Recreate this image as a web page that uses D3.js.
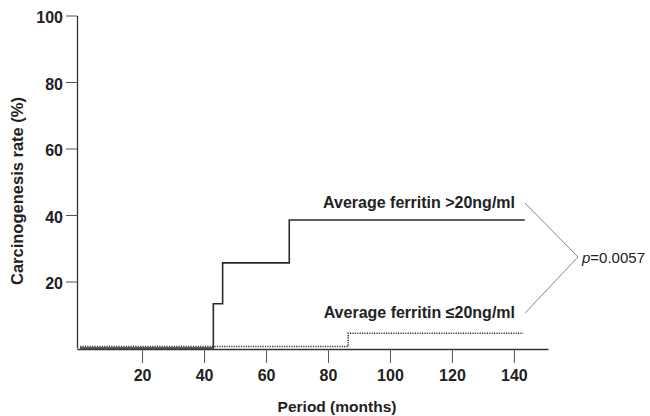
<!DOCTYPE html>
<html>
<head>
<meta charset="utf-8">
<script src="https://cdn.jsdelivr.net/npm/d3@7"></script>
<style>
  body { margin: 0; background: #fff; }
  text { font-family: "Liberation Sans", Arial, sans-serif; }
</style>
</head>
<body>
<div class="chart"></div>
<script>
const w = 650;
const h = 416;

// Kaplan-Meier style step data (months, %)
const highMonths = [0, 43, 46, 67.5, 143.5];
const highRate = [0, 13.3, 25.6, 38.5, 38.5];
const lowMonths = [0, 86.5, 143];
const lowRate = [0, 4, 4];

const xTicks = [20, 40, 60, 80, 100, 120, 140];
const yTicks = [20, 40, 60, 80, 100];

const highLabel = "Average ferritin >20ng/ml";
const lowLabel = "Average ferritin \u226420ng/ml";
const pValue = "=0.0057";

const svg = d3
  .select(".chart")
  .append("svg")
  .attr("width", w)
  .attr("height", h);

const x = d3.scaleLinear().domain([-1, 151]).range([77, 548]);
const y = d3.scaleLinear().domain([0, 100]).range([348, 15.5]);

// axes
const xAxis = svg
  .append("g")
  .attr("transform", `translate(0,${y(0) + 1})`)
  .call(d3.axisBottom(x).tickValues(xTicks).tickSize(14).tickPadding(7).tickSizeOuter(0));
xAxis.select(".domain").attr("stroke", "#333").attr("stroke-width", 1.6);
xAxis.selectAll(".tick line").attr("stroke", "#555");
xAxis
  .selectAll("text")
  .attr("fill", "#222")
  .style("font-size", "16px")
  .style("font-weight", "bold");

const yAxis = svg
  .append("g")
  .attr("transform", `translate(${x(-1)},0)`)
  .call(d3.axisLeft(y).tickValues(yTicks).tickSize(11).tickPadding(3).tickSizeOuter(0));
yAxis.select(".domain").attr("stroke", "#333").attr("stroke-width", 1.3);
yAxis.selectAll(".tick line").attr("stroke", "#555");
yAxis
  .selectAll("text")
  .attr("fill", "#222")
  .attr("dy", "0.45em")
  .style("font-size", "16px")
  .style("font-weight", "bold");

// step lines
const step = d3
  .line()
  .x((d) => x(d[0]))
  .y((d) => y(d[1]))
  .curve(d3.curveStepAfter);

svg
  .append("path")
  .datum(lowMonths.map((m, i) => [m, lowRate[i]]))
  .attr("d", step)
  .attr("transform", "translate(0,-1.5)")
  .attr("fill", "none")
  .attr("stroke", "#333")
  .attr("stroke-width", 1.6)
  .attr("stroke-dasharray", "1.2,1.2");

svg
  .append("path")
  .datum(highMonths.map((m, i) => [m, highRate[i]]))
  .attr("d", step)
  .attr("fill", "none")
  .attr("stroke", "#2a2a2a")
  .attr("stroke-width", 1.6);

// labels
svg
  .append("text")
  .attr("x", 515)
  .attr("y", 208)
  .attr("text-anchor", "end")
  .style("font-size", "16px")
  .style("font-weight", "bold")
  .attr("fill", "#222")
  .text(highLabel);

svg
  .append("text")
  .attr("x", 515)
  .attr("y", 318)
  .attr("text-anchor", "end")
  .style("font-size", "16px")
  .style("font-weight", "bold")
  .attr("fill", "#222")
  .text(lowLabel);

// bracket
svg
  .append("polyline")
  .attr("points", "525,203 578,257 525,313")
  .attr("fill", "none")
  .attr("stroke", "#888")
  .attr("stroke-width", 1);

const p = svg
  .append("text")
  .attr("x", 582)
  .attr("y", 263)
  .style("font-size", "15px")
  .attr("fill", "#222");
p.append("tspan").style("font-style", "italic").text("p");
p.append("tspan").text(pValue);

// axis titles
svg
  .append("text")
  .attr("x", 337)
  .attr("y", 412)
  .attr("text-anchor", "middle")
  .style("font-size", "15.5px")
  .style("font-weight", "bold")
  .attr("fill", "#222")
  .text("Period (months)");

svg
  .append("text")
  .attr("transform", "translate(23,191) rotate(-90)")
  .attr("text-anchor", "middle")
  .style("font-size", "16.5px")
  .style("font-weight", "bold")
  .attr("fill", "#222")
  .text("Carcinogenesis rate (%)");
</script>
</body>
</html>
